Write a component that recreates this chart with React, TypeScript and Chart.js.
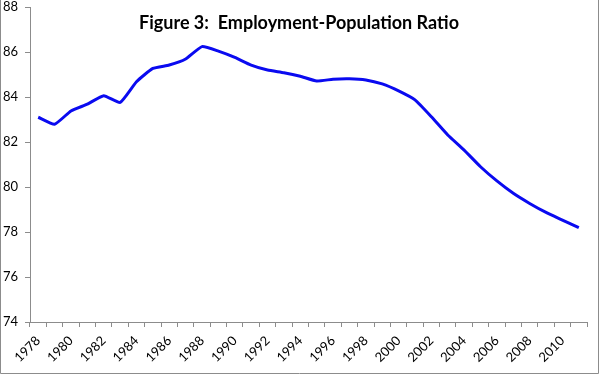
import React, { useEffect, useRef } from "react";
import { Chart, registerables } from "chart.js";

Chart.register(...registerables);

const years: string[] = [
  "1978", "1979", "1980", "1981", "1982", "1983", "1984", "1985", "1986", "1987",
  "1988", "1989", "1990", "1991", "1992", "1993", "1994", "1995", "1996", "1997",
  "1998", "1999", "2000", "2001", "2002", "2003", "2004", "2005", "2006", "2007",
  "2008", "2009", "2010", "2011",
];

const ratio: number[] = [
  83.1, 82.79, 83.38, 83.68, 84.06, 83.76, 84.68, 85.27, 85.42, 85.69,
  86.24, 86.04, 85.76, 85.42, 85.2, 85.08, 84.92, 84.71, 84.79, 84.81,
  84.76, 84.58, 84.27, 83.87, 83.12, 82.31, 81.64, 80.9, 80.27, 79.72,
  79.27, 78.87, 78.53, 78.19,
];

const titleText = "Figure 3:  Employment-Population Ratio";
const yMin = 74;
const yMax = 88;
const yStep = 2;

const FONT = "Lato, 'Open Sans', 'Noto Sans', sans-serif";

const decorPlugin = {
  id: "decor",
  afterDraw(chart: any) {
    const ctx = chart.ctx;
    ctx.save();
    ctx.strokeStyle = "#8c8c8c";
    ctx.lineWidth = 1;
    ctx.beginPath();
    ctx.moveTo(0.5, 0);
    ctx.lineTo(0.5, 373.5);
    ctx.lineTo(598.5, 373.5);
    ctx.lineTo(598.5, 0);
    ctx.stroke();
    ctx.fillStyle = "#000";
    ctx.font = `bold 18px ${FONT}`;
    ctx.textAlign = "center";
    ctx.textBaseline = "middle";
    ctx.fillText(titleText, 299, 23);
    ctx.restore();
  },
};

export default function App() {
  const ref = useRef<HTMLCanvasElement | null>(null);
  useEffect(() => {
    if (!ref.current) return;
    const chart = new Chart(ref.current, {
      type: "line",
      data: {
        labels: years,
        datasets: [
          {
            data: ratio,
            borderColor: "#0a0af0",
            borderWidth: 3,
            pointRadius: 0,
            tension: 0.15,
            fill: false,
          },
        ],
      },
      options: {
        animation: false,
        responsive: false,
        maintainAspectRatio: false,
        layout: { padding: { top: 7, right: 13, bottom: 0, left: 0 } },
        plugins: { legend: { display: false }, tooltip: { enabled: false } },
        scales: {
          x: {
            type: "category",
            offset: true,
            grid: {
              offset: true,
              drawOnChartArea: false,
              tickLength: 5,
              color: "#8c8c8c",
            },
            border: { color: "#8c8c8c", width: 1 },
            ticks: {
              autoSkip: false,
              minRotation: 45,
              maxRotation: 45,
              padding: 6,
              color: "#000",
              font: { family: FONT, size: 13 },
              callback: (_v: any, i: number) => (i % 2 === 0 ? years[i] : ""),
            },
            afterFit: (s: any) => {
              s.height = 53;
              s.paddingLeft = 0;
              s.paddingRight = 0;
            },
          },
          y: {
            min: yMin,
            max: yMax,
            grid: {
              drawOnChartArea: false,
              tickLength: 5,
              color: "#8c8c8c",
            },
            border: { color: "#8c8c8c", width: 1 },
            ticks: {
              stepSize: yStep,
              padding: 7,
              color: "#000",
              font: { family: FONT, size: 13 },
            },
            afterFit: (s: any) => {
              s.width = 30;
              s.paddingTop = 0;
              s.paddingBottom = 0;
            },
          },
        },
      },
      plugins: [decorPlugin],
    });
    return () => chart.destroy();
  }, []);
  return (
    <div style={{ position: "fixed", left: 0, top: 0, width: 600, height: 375, background: "#fff" }}>
      <canvas ref={ref} width={600} height={375} style={{ display: "block" }} />
    </div>
  );
}
